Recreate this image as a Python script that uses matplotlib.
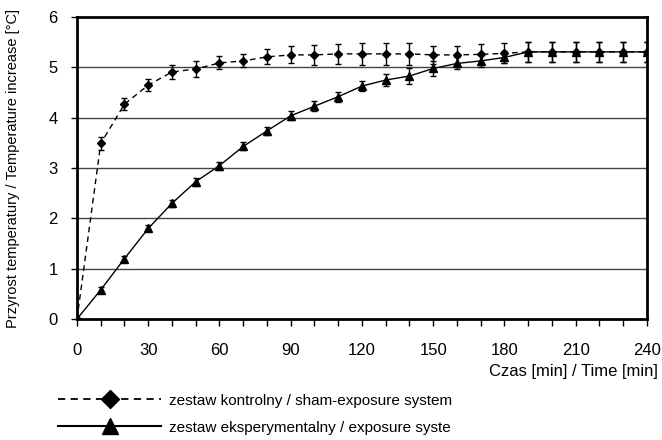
import matplotlib
matplotlib.use('Agg')
from matplotlib import pyplot as plt
from matplotlib.lines import Line2D

plt.rcParams['font.family'] = ['Liberation Sans Narrow', 'Liberation Sans', 'DejaVu Sans']

### dane
czas = [0, 10, 20, 30, 40, 50, 60, 70, 80, 90, 100, 110, 120,
        130, 140, 150, 160, 170, 180, 190, 200, 210, 220, 230, 240]
kontrolny = [0, 3.49, 4.27, 4.65, 4.91, 4.97, 5.09, 5.13, 5.21, 5.25, 5.25, 5.27, 5.27,
             5.27, 5.27, 5.25, 5.25, 5.26, 5.28, 5.31, 5.31, 5.31, 5.31, 5.31, 5.31]
kontrolny_err = [0, 0.13, 0.12, 0.12, 0.14, 0.15, 0.13, 0.13, 0.15, 0.17, 0.2, 0.2, 0.22,
                 0.22, 0.22, 0.18, 0.18, 0.2, 0.2, 0.2, 0.2, 0.2, 0.2, 0.2, 0.2]
eksper = [0, 0.58, 1.2, 1.8, 2.3, 2.73, 3.05, 3.43, 3.74, 4.04, 4.23, 4.42, 4.63,
          4.75, 4.83, 4.98, 5.08, 5.13, 5.2, 5.31, 5.31, 5.31, 5.31, 5.31, 5.31]
eksper_err = [0, 0.05, 0.06, 0.06, 0.07, 0.08, 0.08, 0.08, 0.08, 0.09, 0.1, 0.1, 0.1,
              0.12, 0.15, 0.15, 0.12, 0.12, 0.12, 0.2, 0.2, 0.2, 0.2, 0.2, 0.2]
x_ticks = [0, 30, 60, 90, 120, 150, 180, 210, 240]
y_ticks = [0, 1, 2, 3, 4, 5, 6]

fig = plt.figure(figsize=(6.62, 4.4), dpi=100)
ax = fig.add_axes([0.1163, 0.275, 0.861, 0.686])

for y in y_ticks[1:-1]:
    ax.axhline(y, color='#444444', lw=1.0, zorder=1)

ax.errorbar(czas, kontrolny, yerr=kontrolny_err, fmt='D', ls=(0, (4, 3)), color='black',
            ms=4.5, lw=1.0, elinewidth=1.0, capsize=2, capthick=1.0, zorder=3)
ax.errorbar(czas, eksper, yerr=eksper_err, fmt='^', ls='-', color='black',
            ms=6, lw=1.0, elinewidth=1.0, capsize=2, capthick=1.0, zorder=4)

ax.set_xlim(0, 240)
ax.set_ylim(0, 6)
ax.set_xticks(x_ticks)
ax.set_xticks(range(0, 241, 10), minor=True)
ax.set_yticks(y_ticks)
ax.tick_params(axis='x', which='both', direction='out', length=5, width=1, pad=12, labelsize=12)
ax.tick_params(axis='y', direction='out', length=4, width=1, pad=10, labelsize=12)
for s in ax.spines.values():
    s.set_linewidth(2)

ax.set_ylabel('Przyrost temperatury / Temperature increase [°C]', fontsize=10.5, labelpad=20)
ax.text(1.019, -0.175, 'Czas [min] / Time [min]', transform=ax.transAxes,
        ha='right', va='center', fontsize=12, clip_on=False)

h1 = Line2D([], [], color='black', ls=(0, (4, 3)), lw=1.3, marker='D', ms=9)
h2 = Line2D([], [], color='black', ls='-', lw=1.5, marker='^', ms=11)
fig.legend([h1, h2], ['zestaw kontrolny / sham-exposure system',
                      'zestaw eksperymentalny / exposure syste'],
           loc='upper left', bbox_to_anchor=(0.087, 0.105), frameon=False,
           handlelength=6.8, handletextpad=0.5, labelspacing=0.85, fontsize=11,
           borderaxespad=0, borderpad=0)

fig.savefig('out.png', dpi=100)
